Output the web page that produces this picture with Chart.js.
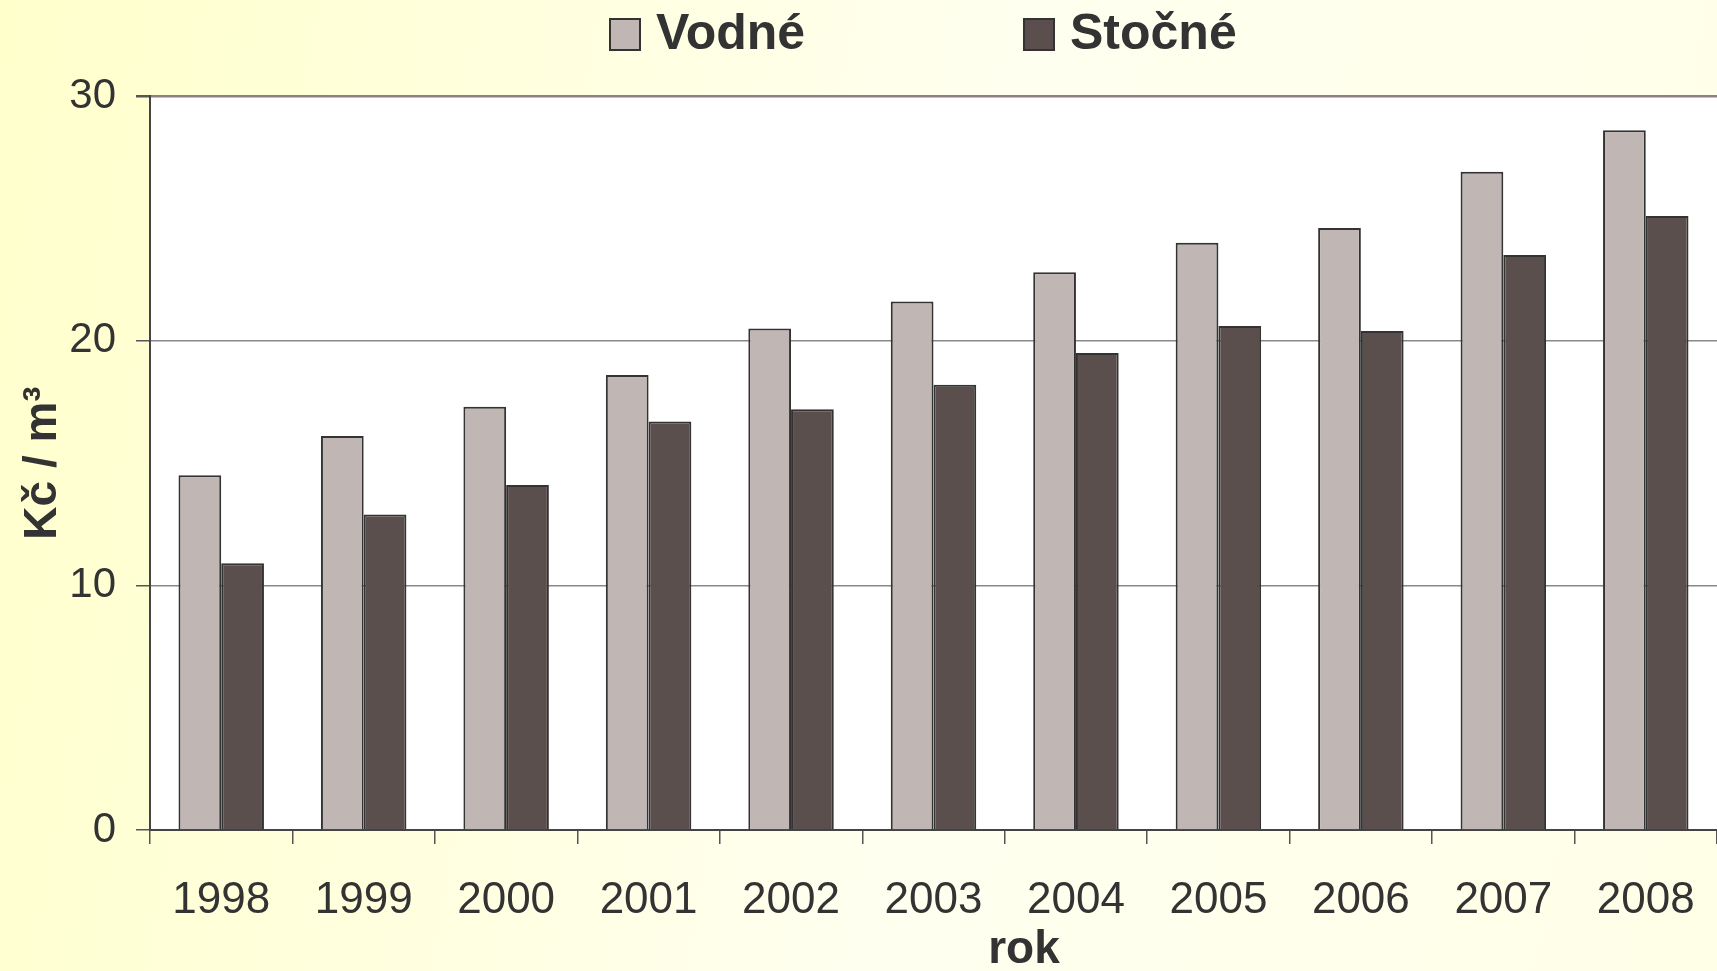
<!DOCTYPE html>
<html>
<head>
<meta charset="utf-8">
<script src="https://cdn.jsdelivr.net/npm/chart.js@4"></script>
<style>
  html, body { margin: 0; padding: 0; overflow: hidden; }
  body { background: linear-gradient(100deg, #ffffcc 0%, #fffff0 55%, #ffffe8 100%); }
  canvas { display: block; }
</style>
</head>
<body>
<canvas id="chart" width="1717" height="971"></canvas>
<script>
const years = ["1998", "1999", "2000", "2001", "2002", "2003", "2004", "2005", "2006", "2007", "2008"]
const vodne = [14.5, 16.1, 17.3, 18.6, 20.5, 21.6, 22.8, 24.0, 24.6, 26.9, 28.6]
const stocne = [10.9, 12.9, 14.1, 16.7, 17.2, 18.2, 19.5, 20.6, 20.4, 23.5, 25.1]
const yTicks = [0, 10, 20, 30]
const xTitle = "rok"
const yTitle = "Kč / m³"

const FONT = "'Liberation Sans', Arial, sans-serif"
const TEXT = "#333333"

// white plot area + custom legend and x title
const decor = {
    id: "decor",
    beforeDraw(chart) {
        const { ctx, chartArea: a } = chart
        ctx.save()
        ctx.fillStyle = "#ffffff"
        ctx.fillRect(a.left, a.top, a.right - a.left, a.bottom - a.top)
        ctx.restore()
    },
    afterDraw(chart) {
        const ctx = chart.ctx
        ctx.save()
        ctx.font = "bold 50px " + FONT
        ctx.textBaseline = "middle"
        const xs = [610, 1024]
        chart.data.datasets.forEach((ds, i) => {
            ctx.fillStyle = ds.backgroundColor
            ctx.strokeStyle = "#333"
            ctx.lineWidth = 2
            ctx.fillRect(xs[i], 19, 30, 31)
            ctx.strokeRect(xs[i], 19, 30, 31)
            ctx.fillStyle = TEXT
            ctx.fillText(ds.label, xs[i] + 46, 35)
        })
        ctx.font = "bold 46px " + FONT
        ctx.textAlign = "center"
        ctx.fillText(xTitle, 1024, 950)
        ctx.restore()
    }
}

const ctx = document.getElementById("chart")
const myChart = new Chart(ctx, {
    type: "bar",
    data: {
        labels: years,
        datasets: [{
            label: "Vodné",
            data: vodne,
            backgroundColor: "#c0b6b3",
            borderColor: "#333333",
            borderWidth: 2,
            categoryPercentage: 0.6,
            barPercentage: 1.0
        }, {
            label: "Stočné",
            data: stocne,
            backgroundColor: "#5a4f4c",
            borderColor: "#333333",
            borderWidth: 2,
            categoryPercentage: 0.6,
            barPercentage: 1.0
        }]
    },
    options: {
        responsive: false,
        devicePixelRatio: 1,
        animation: false,
        layout: { padding: { top: 96, left: 0, right: 0, bottom: 0 } },
        plugins: {
            legend: { display: false },
            tooltip: { enabled: false }
        },
        scales: {
            x: {
                offset: true,
                grid: {
                    offset: true,
                    drawOnChartArea: false,
                    tickLength: 14,
                    tickColor: "#555",
                    lineWidth: 1.5
                },
                border: { display: true, color: "#444", width: 2 },
                ticks: {
                    font: { family: FONT, size: 44 },
                    color: TEXT,
                    padding: 30,
                    maxRotation: 0
                },
                afterFit: (scale) => {
                    scale.height = 141
                    scale.paddingLeft = 0
                    scale.paddingRight = 0
                }
            },
            y: {
                min: 0,
                max: 30,
                afterBuildTicks: (scale) => { scale.ticks = yTicks.map(v => ({ value: v })) },
                grid: {
                    color: (c) => c.tick && c.tick.value === 30 ? "#8c8080" : "#888888",
                    lineWidth: (c) => c.tick && c.tick.value === 30 ? 2.5 : 1.5,
                    tickLength: 14,
                    tickColor: "#555"
                },
                border: { display: true, color: "#444", width: 2 },
                ticks: {
                    font: { family: FONT, size: 42 },
                    color: TEXT,
                    padding: 20
                },
                title: {
                    display: true,
                    text: yTitle,
                    font: { family: FONT, size: 46, weight: "bold" },
                    color: TEXT,
                    padding: { top: 16, bottom: 0 }
                },
                afterFit: (scale) => { scale.width = 150 }
            }
        }
    },
    plugins: [decor]
})
</script>
</body>
</html>
